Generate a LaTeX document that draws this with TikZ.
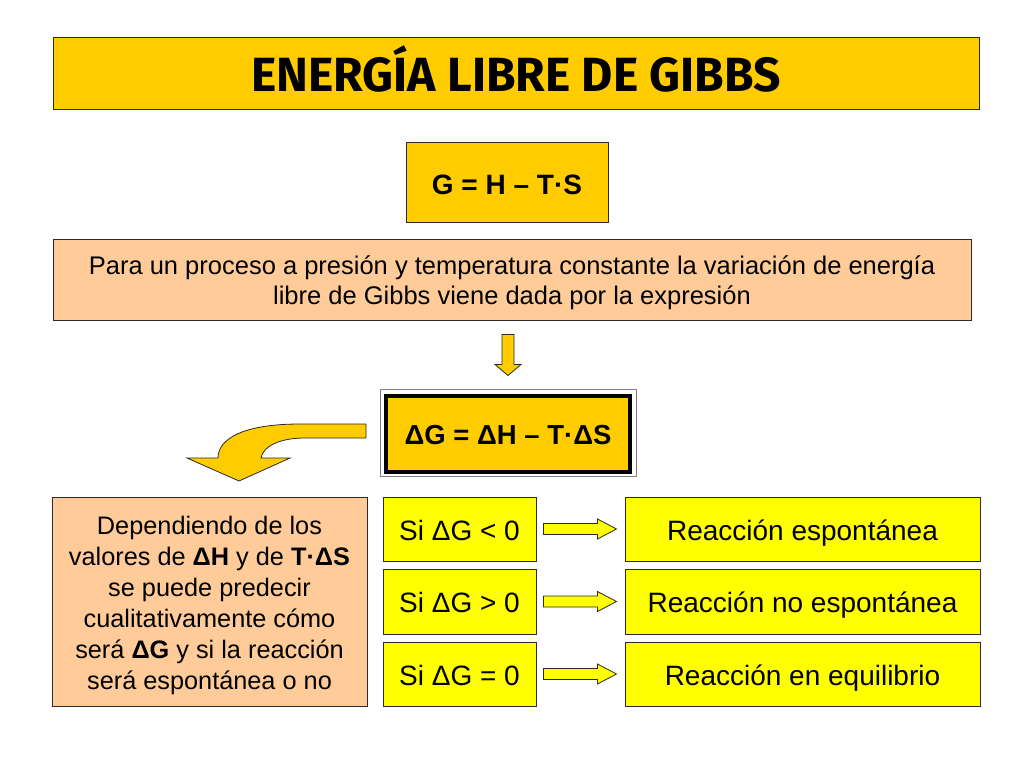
\documentclass[tikz,border=0pt]{standalone}
\usepackage{fontspec}
\setmainfont{Liberation Sans}
\newfontfamily\titlefont{Fira Sans}
\usetikzlibrary{calc}
\definecolor{gold}{HTML}{FFCC00}
\definecolor{peach}{HTML}{FFCC99}
\definecolor{yel}{HTML}{FFFF00}
\definecolor{edge}{HTML}{2A2A2A}
\tikzset{
  box/.style={draw=edge, line width=1pt, inner sep=0pt, align=center},
  goldbox/.style={box, fill=gold},
  peachbox/.style={box, fill=peach},
  yelbox/.style={box, fill=yel},
  barrow/.style={draw=edge, line width=0.8pt, fill=yel, line join=miter},
  garrow/.style={draw=edge, line width=0.8pt, fill=gold, line join=miter},
}
\newcommand\blockarrow[2]{%
  \draw[barrow] ([xshift=7pt,yshift=5.5pt]#1.east) -- ([xshift=-27pt,yshift=5.5pt]#2.west)
   -- ([xshift=-27pt,yshift=10pt]#2.west) -- ([xshift=-8pt]#2.west)
   -- ([xshift=-27pt,yshift=-10pt]#2.west) -- ([xshift=-27pt,yshift=-5.5pt]#2.west)
   -- ([xshift=7pt,yshift=-5.5pt]#1.east) -- cycle;}
\begin{document}
\begin{tikzpicture}[x=1pt,y=-1pt]
\useasboundingbox[fill=white] (0,0) rectangle (1024,768);
% title
\node[goldbox, minimum width=926pt, minimum height=71pt, text height=36pt, text depth=0pt,
  font=\titlefont\bfseries\fontsize{48}{50}\selectfont] (title) at (516,73.5) {ENERGÍA LIBRE DE GIBBS};
% G = H - TS
\node[goldbox, minimum width=202pt, minimum height=80pt, text height=24pt, text depth=0pt,
  font=\bfseries\fontsize{28}{30}\selectfont] (g) at (507,182) {G = H – T·S};
% para
\node[peachbox, minimum width=918pt, minimum height=81pt] (para) at (512,279.5) {};
\node[align=center, inner sep=0pt, font=\fontsize{25.5}{30}\selectfont] (paratext) at ([yshift=-3pt]para.center)
 {Para un proceso a presión y temperatura constante la variación de energía\\libre de Gibbs viene dada por la expresión};
% Delta G box
\node[draw=gray, line width=1pt, fill=white, minimum width=256pt, minimum height=87pt, inner sep=0pt] (dg) at (508,432.5) {};
\draw[line width=4pt, fill=gold] (386,395.5) rectangle (630,472);
\node[inner sep=0pt, text height=24.7pt, text depth=0pt, font=\bfseries\fontsize{27.5}{30}\selectfont] (dgt) at (dg.center) {ΔG = ΔH – T·ΔS};
% down arrow
\draw[garrow] ([xshift=-6pt,yshift=54pt]dg.north) -- ([xshift=-6pt,yshift=24pt]dg.north)
  -- ([xshift=-13pt,yshift=24pt]dg.north) -- ([yshift=13pt]dg.north)
  -- ([xshift=13pt,yshift=24pt]dg.north) -- ([xshift=6pt,yshift=24pt]dg.north)
  -- ([xshift=6pt,yshift=54pt]dg.north) -- cycle;
% left box
\node[peachbox, minimum width=315pt, minimum height=209pt] (left) at (209.5,601.5) {};
\node[align=center, inner sep=0pt, font=\fontsize{25.3}{31}\selectfont] (lefttext) at ([yshift=-3.5pt]left.center)
 {Dependiendo de los\\valores de \textbf{ΔH} y de \textbf{T·ΔS}\\se puede predecir\\cualitativamente cómo\\será \textbf{ΔG} y si la reacción\\será espontánea o no};
% curved arrow
\draw[garrow] (366,424) -- (300,424) .. controls (245,424) and (218,438) .. (218,458)
  -- (187,458) -- (239,481) -- (290,458) -- (261,458)
  .. controls (263,446) and (280,438) .. (305,438) -- (366,438) -- cycle;
% Si boxes
\tikzset{sitext/.style={font=\fontsize{28}{30}\selectfont, text height=22pt, text depth=0pt}}
\node[yelbox, sitext, minimum width=153pt, minimum height=64pt] (si1) at (459.5,529) {Si ΔG < 0};
\node[yelbox, sitext, minimum width=153pt, minimum height=65pt] (si2) at (459.5,601.5) {Si ΔG > 0};
\node[yelbox, sitext, minimum width=153pt, minimum height=64pt] (si3) at (459.5,674) {Si ΔG = 0};
\node[yelbox, sitext, minimum width=355pt, minimum height=64pt] (re1) at (802.5,529) {Reacción espontánea};
\node[yelbox, sitext, minimum width=355pt, minimum height=65pt] (re2) at (802.5,601.5) {Reacción no espontánea};
\node[yelbox, sitext, minimum width=355pt, minimum height=64pt] (re3) at (802.5,674) {Reacción en equilibrio};
\blockarrow{si1}{re1}
\blockarrow{si2}{re2}
\blockarrow{si3}{re3}
\end{tikzpicture}
\end{document}
